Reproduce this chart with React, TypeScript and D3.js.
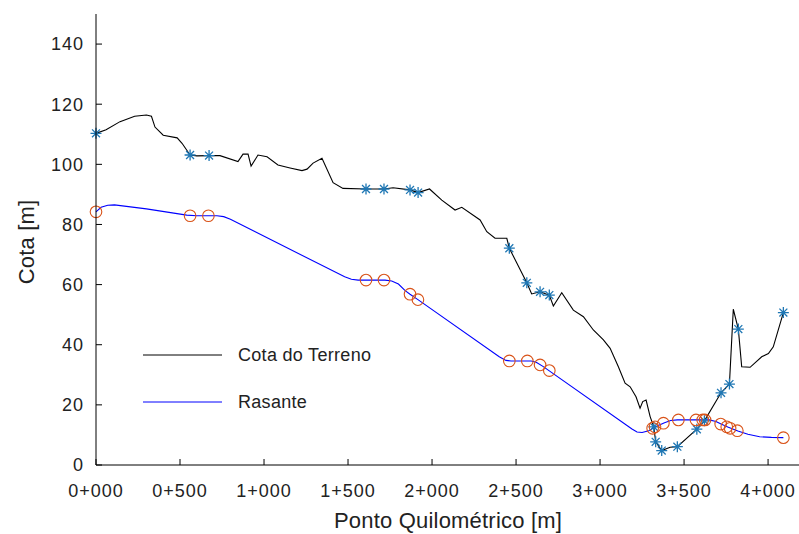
import React from 'react'
import * as d3 from 'd3'

// terrain profile (chainage m, elevation m)
const terrainKm = [
  0, 60, 143, 230, 300, 330, 351, 400, 483, 512, 560, 600, 673, 738, 845, 875, 905, 923, 964, 1018,
  1083, 1155, 1226, 1256, 1292, 1345, 1411, 1470, 1607, 1714, 1768, 1869, 1917, 1985, 2058, 2137,
  2177, 2286, 2326, 2375, 2445, 2460, 2564, 2593, 2643, 2698, 2722, 2772, 2841, 2901, 2960, 3020,
  3060, 3109, 3149, 3179, 3214, 3238, 3254, 3274, 3298, 3320, 3331, 3367, 3417, 3460, 3576, 3621,
  3720, 3770, 3793, 3823, 3843, 3893, 3962, 4002, 4031, 4091,
]
const terrainZ = [
  110.3, 111.5, 114.2, 116.0, 116.4, 116.0, 112.4, 109.7, 108.8, 107.0, 103.1, 102.8, 102.9, 102.9,
  100.9, 103.4, 103.4, 99.4, 103.1, 102.5, 99.8, 98.8, 97.9, 98.4, 100.4, 102.0, 93.9, 92.0, 91.8,
  91.8, 92.2, 91.5, 90.6, 91.8, 88.1, 84.8, 85.7, 81.5, 77.6, 75.4, 75.4, 72.1, 60.6, 56.9, 57.6,
  56.5, 52.9, 57.3, 51.5, 49.3, 44.9, 41.6, 38.8, 32.7, 27.2, 26.0, 22.7, 18.9, 21.1, 21.6, 16.1,
  12.7, 7.7, 4.8, 5.9, 6.1, 11.9, 14.7, 24.0, 26.9, 51.8, 45.2, 32.7, 32.5, 36.0, 37.1, 39.3, 50.7,
]

// grade line (rasante)
const rasanteKm = [
  0, 30, 70, 110, 300, 540, 600, 720, 760, 800, 1480, 1520, 1560, 1720, 1760, 1800, 1840, 1869,
  1916, 2400, 2440, 2470, 2590, 2620, 2660, 2698, 3190, 3220, 3250, 3290, 3330, 3380, 3420, 3460,
  3650, 3690, 3720, 3760, 3820, 3880, 3950, 4020, 4091,
]
const rasanteZ = [
  84.2, 85.7, 86.4, 86.5, 85.2, 83.1, 82.9, 82.9, 82.6, 81.7, 62.6, 61.8, 61.5, 61.5, 61.2, 60.2,
  58.0, 56.8, 55.0, 36.0, 34.8, 34.6, 34.6, 34.2, 32.8, 31.3, 12.0, 11.0, 10.8, 11.4, 12.7, 14.0,
  14.8, 15.0, 15.0, 14.5, 13.6, 12.6, 11.3, 10.2, 9.4, 9.2, 9.1,
]

// marked stations
const starKm = [
  0, 560, 673, 1607, 1714, 1869, 1917, 2460, 2564, 2643, 2698, 3320, 3331, 3367, 3460, 3576, 3621,
  3720, 3770, 3823, 4091,
]
const starZ = [
  110.3, 103.1, 102.9, 91.8, 91.8, 91.5, 90.6, 72.1, 60.6, 57.6, 56.5, 12.7, 7.7, 4.8, 6.1, 11.9,
  14.7, 24.0, 26.9, 45.2, 50.7,
]
const circleKm = [
  0, 560, 669, 1607, 1714, 1869, 1916, 2460, 2567, 2643, 2698, 3313, 3327, 3377, 3466, 3571, 3611,
  3625, 3718, 3754, 3774, 3817, 4091,
]
const circleZ = [
  84.2, 82.9, 82.9, 61.5, 61.5, 56.8, 55.0, 34.6, 34.6, 33.3, 31.4, 12.2, 12.7, 13.9, 15.0, 15.0,
  15.0, 15.0, 13.6, 12.7, 12.2, 11.4, 9.1,
]

const xTicks = [0, 500, 1000, 1500, 2000, 2500, 3000, 3500, 4000]
const yTicks = [0, 20, 40, 60, 80, 100, 120, 140]

const W = 799
const H = 534
const left = 96
const right = 800
const top = 14
const bottom = 465

const fmtPk = (v: number) => `${Math.floor(v / 1000)}+${String(v % 1000).padStart(3, '0')}`

const starPath = (r: number) => {
  const d = r * 0.72
  return `M0,${-r}V${r}M${-r},0H${r}M${-d},${-d}L${d},${d}M${-d},${d}L${d},${-d}`
}

const App = () => {
  const x = d3.scaleLinear().domain([0, 4190]).range([left, right])
  const y = d3.scaleLinear().domain([0, 150]).range([bottom, top])

  const line = d3
    .line<[number, number]>()
    .x((d) => x(d[0]))
    .y((d) => y(d[1]))

  const terrain = terrainKm.map((k, i) => [k, terrainZ[i]] as [number, number])
  const rasante = rasanteKm.map((k, i) => [k, rasanteZ[i]] as [number, number])
  const font = '"Liberation Sans", Arial, Helvetica, sans-serif'

  return (
    <svg
      width={W}
      height={H}
      style={{ position: 'absolute', left: 0, top: 0, background: '#fff' }}
      fontFamily={font}
    >
      <path d={line(terrain) || ''} fill="none" stroke="#000" strokeWidth={1.1} />
      <path d={line(rasante) || ''} fill="none" stroke="#0000ff" strokeWidth={1.1} />

      {starKm.map((k, i) => (
        <path
          key={'s' + i}
          d={starPath(5.5)}
          transform={`translate(${x(k)},${y(starZ[i])})`}
          stroke="#1f77b4"
          strokeWidth={1.3}
          fill="none"
        />
      ))}
      {circleKm.map((k, i) => (
        <circle
          key={'c' + i}
          cx={x(k)}
          cy={y(circleZ[i])}
          r={5.8}
          fill="none"
          stroke="#d95319"
          strokeWidth={1.1}
        />
      ))}

      {/* axes */}
      <line x1={left} x2={right} y1={bottom} y2={bottom} stroke="#000" />
      <line x1={left} x2={left} y1={top} y2={bottom} stroke="#000" />
      {xTicks.map((t) => (
        <g key={'x' + t} transform={`translate(${x(t)},0)`}>
          <line y1={bottom} y2={bottom - 6} stroke="#000" />
          <text y={497} textAnchor="middle" fontSize={18} letterSpacing={1} fill="#222">
            {fmtPk(t)}
          </text>
        </g>
      ))}
      {yTicks.map((t) => (
        <g key={'y' + t} transform={`translate(0,${y(t)})`}>
          <line x1={left} x2={left + 6} stroke="#000" />
          <text x={84} dy="0.35em" textAnchor="end" fontSize={18} letterSpacing={1} fill="#222">
            {t}
          </text>
        </g>
      ))}

      <text x={448} y={528} textAnchor="middle" fontSize={22} letterSpacing={0.2} fill="#222">
        Ponto Quilométrico [m]
      </text>
      <text
        transform={`translate(34,242) rotate(-90)`}
        textAnchor="middle"
        fontSize={22}
        letterSpacing={0.2}
        fill="#222"
      >
        Cota [m]
      </text>

      {/* legend */}
      <line x1={143} x2={222} y1={355} y2={355} stroke="#000" />
      <text x={238} y={361} fontSize={18} letterSpacing={0.3} fill="#222">
        Cota do Terreno
      </text>
      <line x1={143} x2={222} y1={402} y2={402} stroke="#0000ff" />
      <text x={238} y={408} fontSize={18} letterSpacing={0.3} fill="#222">
        Rasante
      </text>
    </svg>
  )
}

export default App
